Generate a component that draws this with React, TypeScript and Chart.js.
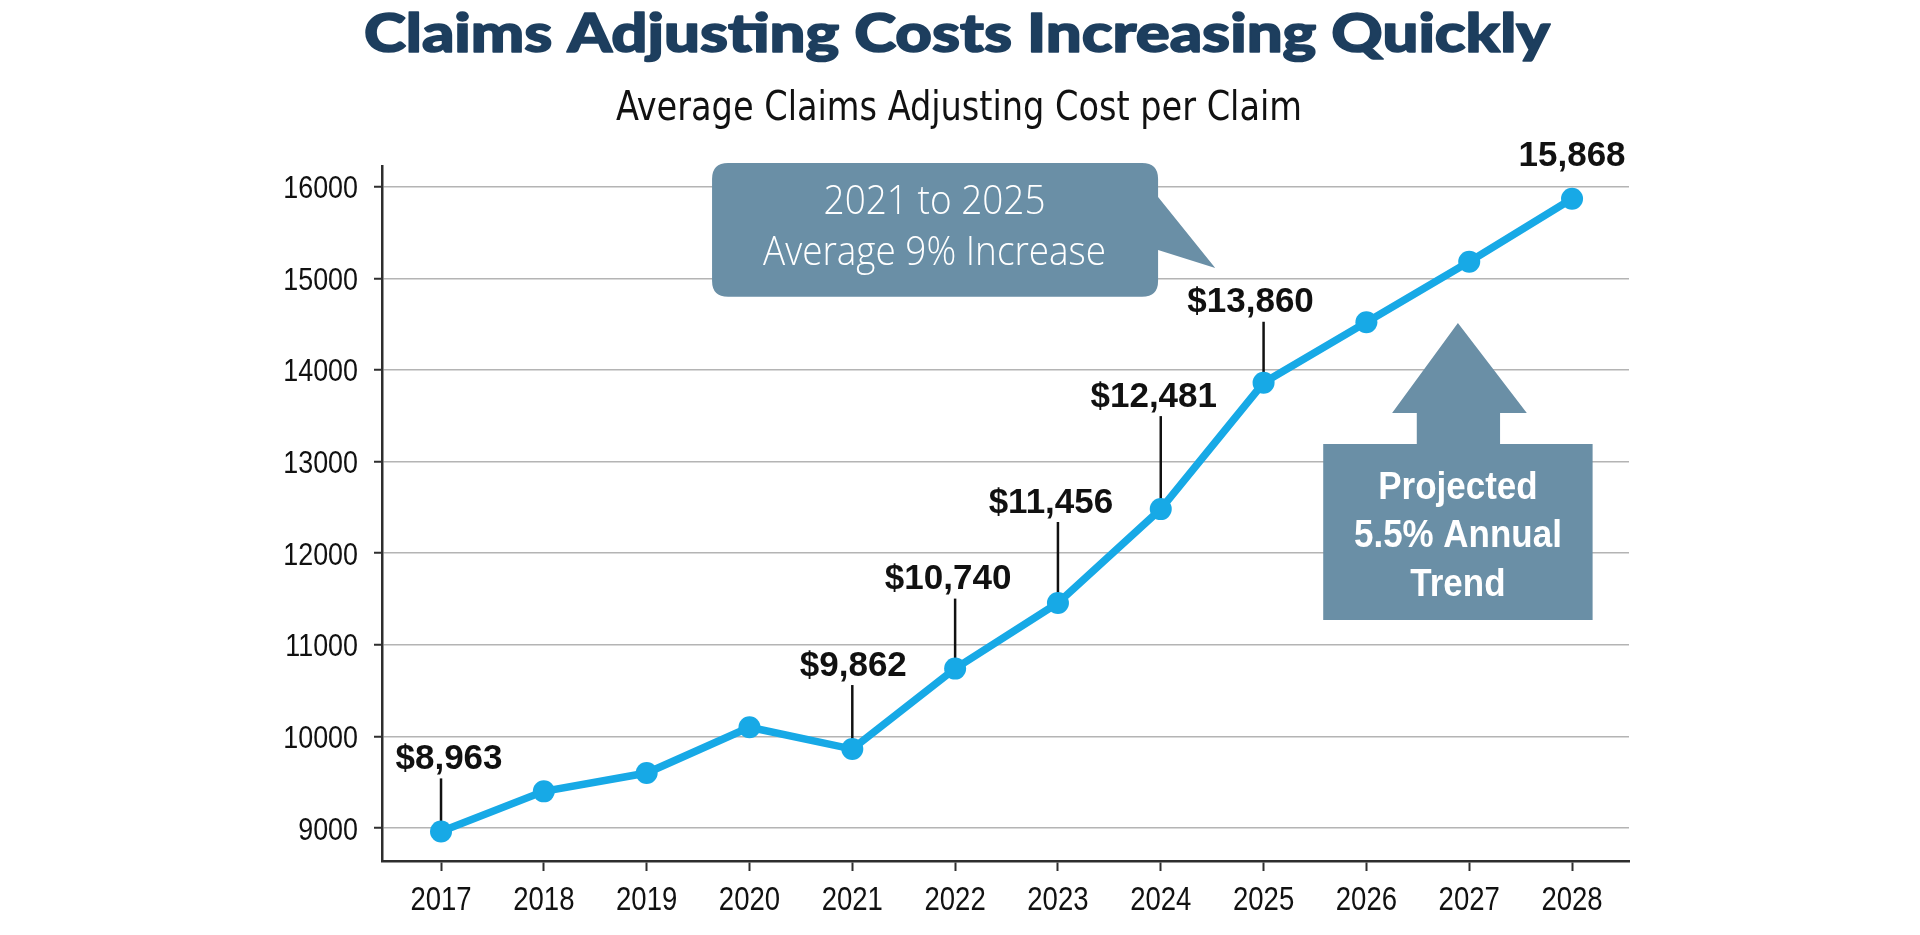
import React, { useEffect, useRef } from "react";
import { Chart, registerables } from "chart.js";

Chart.register(...registerables);

// ---- data ----
const years = [2017, 2018, 2019, 2020, 2021, 2022, 2023, 2024, 2025, 2026, 2027, 2028];
const costPerClaim = [8963, 9400, 9600, 10100, 9862, 10740, 11456, 12481, 13860, 14520, 15180, 15868];
const valueLabels = ["$8,963", "", "", "", "$9,862", "$10,740", "$11,456", "$12,481", "$13,860", "", "", "15,868"];
const yTickValues = [9000, 10000, 11000, 12000, 13000, 14000, 15000, 16000];

const titleText = "Claims Adjusting Costs Increasing Quickly";
const subtitleText = "Average Claims Adjusting Cost per Claim";
const calloutLines = ["2021 to 2025", "Average 9% Increase"];
const trendLines = ["Projected", "5.5% Annual", "Trend"];

// ---- label placement (pixels above / beside each point) ----
const labelLift = [75, 0, 0, 0, 86, 92, 103, 115, 83, 0, 0, 45];
const labelShift = [8, 0, 0, 0, 1, -7, -7, -7, -13, 0, 0, 0];
const hasLeader = [true, false, false, false, true, true, true, true, true, false, false, false];

// ---- styles ----
const BLUE = "#17a9e6";
const SLATE = "#6a8fa6";
const NAVY = "#1d3e5e";
const AXIS = "#2e2e2e";
const GRID = "#b4b4b4";
const NARROW = '"Liberation Sans Narrow", "DejaVu Sans Condensed", "Liberation Sans", sans-serif';
const SANS = '"Liberation Sans", Arial, sans-serif';
const HEAVY = 'Lato, "Open Sans", sans-serif';
const LIGHT = '"Open Sans", "Noto Sans", sans-serif';

// Draw text at (x, y) with a horizontal squeeze factor k.
function fillSqueezed(ctx: CanvasRenderingContext2D, text: string, x: number, y: number, k: number) {
  ctx.save();
  ctx.translate(x, y);
  ctx.scale(k, 1);
  ctx.fillText(text, 0, 0);
  ctx.restore();
}

// Draw text centred at x, squeezed horizontally so it spans the given width.
function fillFitted(ctx: CanvasRenderingContext2D, text: string, x: number, y: number, width: number) {
  const w = ctx.measureText(text).width;
  fillSqueezed(ctx, text, x, y, width / w);
}

const overlayPlugin = {
  id: "overlay",
  beforeDatasetsDraw(chart: any) {
    const { ctx, scales } = chart;
    const x = scales.x;
    const y = scales.y;
    ctx.save();
    ctx.strokeStyle = "#111";
    ctx.lineWidth = 2.5;
    years.forEach((yr, i) => {
      if (!valueLabels[i] || !hasLeader[i]) return;
      const px = x.getPixelForValue(yr);
      const py = y.getPixelForValue(costPerClaim[i]);
      const top = py - labelLift[i] + 22;
      ctx.beginPath();
      ctx.moveTo(px, top);
      ctx.lineTo(px, py);
      ctx.stroke();
    });
    ctx.restore();
  },
  afterDraw(chart: any) {
    const { ctx, scales, width, chartArea } = chart;
    const x = scales.x;
    const y = scales.y;
    const X = (v: number) => x.getPixelForValue(v);
    const Y = (v: number) => y.getPixelForValue(v);
    ctx.save();

    // axis tick labels (condensed)
    ctx.fillStyle = "#111";
    ctx.textBaseline = "alphabetic";
    ctx.font = `400 32px ${SANS}`;
    ctx.textAlign = "right";
    y.ticks.forEach((t: any) => {
      fillSqueezed(ctx, String(t.value), chartArea.left - 24, Y(t.value) + 11.5, 0.84);
    });
    ctx.font = `400 34px ${SANS}`;
    ctx.textAlign = "center";
    x.ticks.forEach((t: any) => {
      fillSqueezed(ctx, String(t.value), X(t.value), chartArea.bottom + 49, 0.81);
    });

    // title + subtitle
    ctx.textAlign = "center";
    ctx.fillStyle = NAVY;
    ctx.strokeStyle = NAVY;
    ctx.lineWidth = 1.6;
    ctx.lineJoin = "round";
    ctx.font = `900 54px ${HEAVY}`;
    {
      const w = ctx.measureText(titleText).width;
      const k = 1186 / w;
      ctx.save();
      ctx.translate(width / 2 - 3, 52);
      ctx.scale(k, 1);
      ctx.fillText(titleText, 0, 0);
      ctx.strokeText(titleText, 0, 0);
      ctx.restore();
    }
    ctx.fillStyle = "#111";
    ctx.font = `400 40px ${NARROW}`;
    fillFitted(ctx, subtitleText, width / 2 - 1, 120, 686);

    // value labels
    ctx.fillStyle = "#111";
    ctx.font = `bold 35px ${SANS}`;
    years.forEach((yr, i) => {
      if (!valueLabels[i]) return;
      const cx = X(yr) + labelShift[i];
      const cy = Y(costPerClaim[i]) - labelLift[i];
      ctx.fillText(valueLabels[i], cx, cy + 35 * 0.358);
    });

    // speech-bubble callout
    const bx1 = X(2019.636), bx2 = X(2023.974);
    const by1 = Y(16259), by2 = Y(14799);
    const r = 16;
    ctx.fillStyle = SLATE;
    ctx.beginPath();
    ctx.moveTo(bx1 + r, by1);
    ctx.lineTo(bx2 - r, by1);
    ctx.quadraticCurveTo(bx2, by1, bx2, by1 + r);
    ctx.lineTo(bx2, Y(15888));
    ctx.lineTo(X(2024.53), Y(15112));
    ctx.lineTo(bx2, Y(15309));
    ctx.lineTo(bx2, by2 - r);
    ctx.quadraticCurveTo(bx2, by2, bx2 - r, by2);
    ctx.lineTo(bx1 + r, by2);
    ctx.quadraticCurveTo(bx1, by2, bx1, by2 - r);
    ctx.lineTo(bx1, by1 + r);
    ctx.quadraticCurveTo(bx1, by1, bx1 + r, by1);
    ctx.closePath();
    ctx.fill();
    ctx.fillStyle = "#ffffff";
    ctx.font = `300 41px ${LIGHT}`;
    const cxm = X(2021.8);
    fillFitted(ctx, calloutLines[0], cxm, Y(15853) + 14, 222);
    fillFitted(ctx, calloutLines[1], cxm, Y(15297) + 14, 343);

    // projected-trend arrow
    ctx.fillStyle = SLATE;
    ctx.beginPath();
    ctx.moveTo(X(2026.89), Y(14512));
    ctx.lineTo(X(2027.56), Y(13530));
    ctx.lineTo(X(2027.3), Y(13530));
    ctx.lineTo(X(2027.3), Y(13191));
    ctx.lineTo(X(2028.2), Y(13191));
    ctx.lineTo(X(2028.2), Y(11270));
    ctx.lineTo(X(2025.58), Y(11270));
    ctx.lineTo(X(2025.58), Y(13191));
    ctx.lineTo(X(2026.49), Y(13191));
    ctx.lineTo(X(2026.49), Y(13530));
    ctx.lineTo(X(2026.25), Y(13530));
    ctx.closePath();
    ctx.fill();
    ctx.fillStyle = "#ffffff";
    ctx.font = `bold 38px ${SANS}`;
    const ax = X(2026.89);
    [12744, 12220, 11685].forEach((v, i) => {
      fillSqueezed(ctx, trendLines[i], ax, Y(v) + 38 * 0.358, 0.92);
    });

    ctx.restore();
  },
};

export default function App() {
  const canvasRef = useRef<HTMLCanvasElement | null>(null);

  useEffect(() => {
    document.body.style.margin = "0";
    const canvas = canvasRef.current;
    if (!canvas) return;
    const chart = new Chart(canvas, {
      type: "line",
      data: {
        datasets: [
          {
            data: years.map((yr, i) => ({ x: yr, y: costPerClaim[i] })),
            borderColor: BLUE,
            backgroundColor: BLUE,
            borderWidth: 7.5,
            pointRadius: 11,
            pointHoverRadius: 11,
            pointBackgroundColor: BLUE,
            pointBorderWidth: 0,
            tension: 0,
          },
        ],
      },
      options: {
        responsive: false,
        animation: false,
        devicePixelRatio: 1,
        layout: { padding: { top: 166, right: 291, bottom: 0, left: 0 } },
        plugins: {
          legend: { display: false },
          tooltip: { enabled: false },
          title: { display: false },
        },
        scales: {
          x: {
            type: "linear",
            min: 2016.426,
            max: 2028.554,
            afterBuildTicks: (s: any) => {
              s.ticks = years.map((v) => ({ value: v }));
            },
            afterFit: (s: any) => {
              s.height = 74;
            },
            grid: {
              drawOnChartArea: false,
              drawTicks: true,
              tickLength: 10,
              tickColor: AXIS,
              tickWidth: 2,
            },
            border: { color: AXIS, width: 2.5 },
            ticks: { display: false, autoSkip: false, maxRotation: 0 },
          },
          y: {
            min: 8640,
            max: 16226,
            afterBuildTicks: (s: any) => {
              s.ticks = yTickValues.map((v) => ({ value: v }));
            },
            afterFit: (s: any) => {
              s.width = 382;
            },
            grid: {
              color: GRID,
              lineWidth: 1.5,
              tickLength: 8,
              tickColor: AXIS,
              tickWidth: 2,
            },
            border: { color: AXIS, width: 2.5 },
            ticks: { display: false, autoSkip: false },
          },
        },
      },
      plugins: [overlayPlugin],
    });
    return () => chart.destroy();
  }, []);

  return (
    <div style={{ width: 1920, height: 935, background: "#fff" }}>
      <canvas ref={canvasRef} width={1920} height={935} style={{ display: "block" }} />
    </div>
  );
}
